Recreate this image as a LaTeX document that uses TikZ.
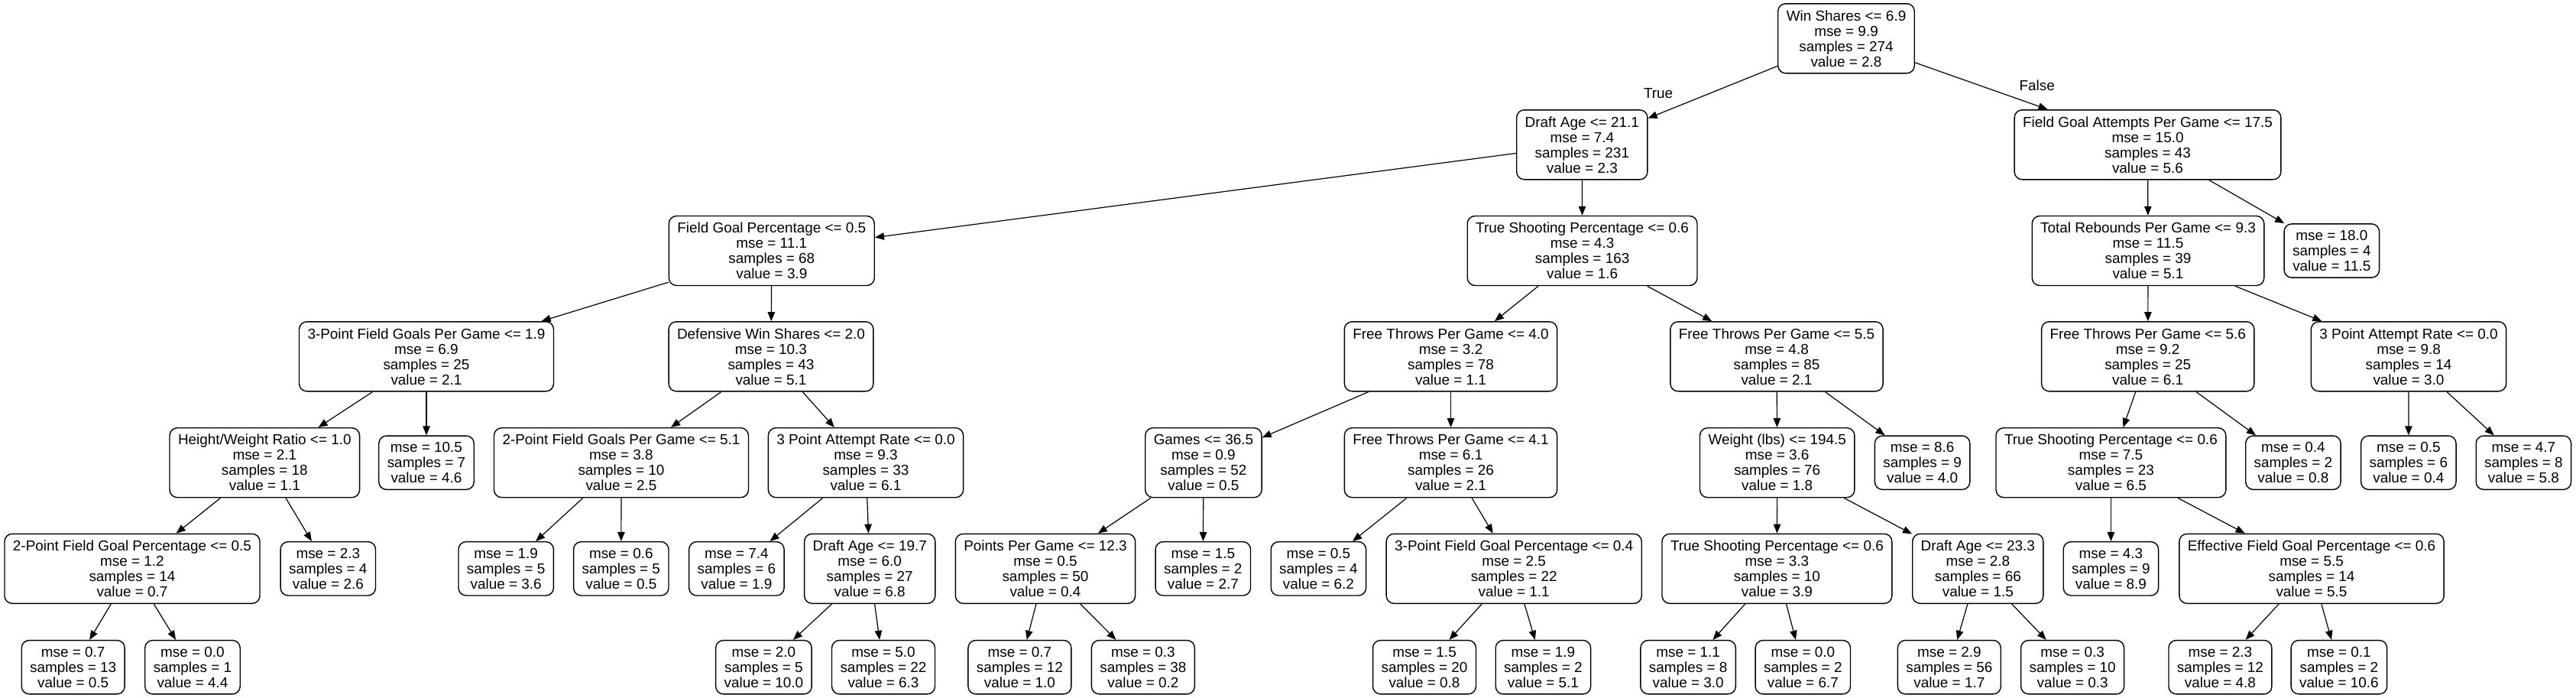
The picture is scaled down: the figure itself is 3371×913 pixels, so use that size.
\documentclass[tikz,border=0pt]{standalone}
\usepackage{fontspec}
\setmainfont{Liberation Sans}
\usepackage{tikz}
\usetikzlibrary{arrows.meta}

\begin{document}
\begin{tikzpicture}[x=1pt, y=-1pt,
		font=\fontsize{18.9}{20}\selectfont,
		splitbox/.style={draw, line width=1.4pt, rounded corners=10pt, align=center, inner xsep=11pt, inner ysep=3pt, minimum height=91pt},
		leafbox/.style={splitbox, minimum height=70.3pt},
		branch/.style={line width=1.2pt, -{Triangle[length=12pt, width=9.5pt]}},
		blabel/.style={anchor=base, inner sep=0pt}]
			% \draw[very thin, gray, dashed](0, 0)grid[step=100](3371, 913);
			\fill[white] (0, 0) rectangle (3371, 913);
			\useasboundingbox (0, 0) rectangle (3371, 913);

			% level 0 and 1
			\node[splitbox] (win_shares) at (2416, 50.3) {Win Shares <= 6.9\\mse = 9.9\\samples = 274\\value = 2.8};
			\node[splitbox] (draft_age_21) at (2070.3, 189.3) {Draft Age <= 21.1\\mse = 7.4\\samples = 231\\value = 2.3};
			\node[splitbox] (fga_17) at (2810.5, 189.3) {Field Goal Attempts Per Game <= 17.5\\mse = 15.0\\samples = 43\\value = 5.6};

			% level 2
			\node[splitbox] (fg_pct) at (1009.8, 328) {Field Goal Percentage <= 0.5\\mse = 11.1\\samples = 68\\value = 3.9};
			\node[splitbox] (ts_pct_163) at (2070.6, 328) {True Shooting Percentage <= 0.6\\mse = 4.3\\samples = 163\\value = 1.6};
			\node[splitbox] (rebounds) at (2811, 328) {Total Rebounds Per Game <= 9.3\\mse = 11.5\\samples = 39\\value = 5.1};
			\node[leafbox] (leaf_18) at (3051.3, 328) {mse = 18.0\\samples = 4\\value = 11.5};

			% level 3
			\node[splitbox] (three_pg) at (558, 466.3) {3-Point Field Goals Per Game <= 1.9\\mse = 6.9\\samples = 25\\value = 2.1};
			\node[splitbox] (def_ws) at (1009, 466.3) {Defensive Win Shares <= 2.0\\mse = 10.3\\samples = 43\\value = 5.1};
			\node[splitbox] (ft_40) at (1898.5, 466.3) {Free Throws Per Game <= 4.0\\mse = 3.2\\samples = 78\\value = 1.1};
			\node[splitbox] (ft_55) at (2325, 466.3) {Free Throws Per Game <= 5.5\\mse = 4.8\\samples = 85\\value = 2.1};
			\node[splitbox] (ft_56) at (2810.7, 466.3) {Free Throws Per Game <= 5.6\\mse = 9.2\\samples = 25\\value = 6.1};
			\node[splitbox] (tpar_14) at (3152, 466.3) {3 Point Attempt Rate <= 0.0\\mse = 9.8\\samples = 14\\value = 3.0};

			% level 4
			\node[splitbox] (hw_ratio) at (346.3, 605.2) {Height/Weight Ratio <= 1.0\\mse = 2.1\\samples = 18\\value = 1.1};
			\node[leafbox] (leaf_105) at (558, 605.2) {mse = 10.5\\samples = 7\\value = 4.6};
			\node[splitbox] (two_pg) at (813, 605.2) {2-Point Field Goals Per Game <= 5.1\\mse = 3.8\\samples = 10\\value = 2.5};
			\node[splitbox] (tpar_33) at (1133, 605.2) {3 Point Attempt Rate <= 0.0\\mse = 9.3\\samples = 33\\value = 6.1};
			\node[splitbox] (games) at (1574.9, 605.2) {Games <= 36.5\\mse = 0.9\\samples = 52\\value = 0.5};
			\node[splitbox] (ft_41) at (1898.5, 605.2) {Free Throws Per Game <= 4.1\\mse = 6.1\\samples = 26\\value = 2.1};
			\node[splitbox] (weight) at (2325.7, 605.2) {Weight (lbs) <= 194.5\\mse = 3.6\\samples = 76\\value = 1.8};
			\node[leafbox] (leaf_86) at (2515.6, 605.2) {mse = 8.6\\samples = 9\\value = 4.0};
			\node[splitbox] (ts_pct_23) at (2762.4, 605.2) {True Shooting Percentage <= 0.6\\mse = 7.5\\samples = 23\\value = 6.5};
			\node[leafbox] (leaf_04) at (3000.9, 605.2) {mse = 0.4\\samples = 2\\value = 0.8};
			\node[leafbox] (leaf_05a) at (3151.8, 605.2) {mse = 0.5\\samples = 6\\value = 0.4};
			\node[leafbox] (leaf_47) at (3302.4, 605.2) {mse = 4.7\\samples = 8\\value = 5.8};

			% level 5
			\node[splitbox] (two_pct) at (173, 743.8) {2-Point Field Goal Percentage <= 0.5\\mse = 1.2\\samples = 14\\value = 0.7};
			\node[leafbox] (leaf_23a) at (429.3, 743.8) {mse = 2.3\\samples = 4\\value = 2.6};
			\node[leafbox] (leaf_19a) at (662.2, 743.8) {mse = 1.9\\samples = 5\\value = 3.6};
			\node[leafbox] (leaf_06) at (812.8, 743.8) {mse = 0.6\\samples = 5\\value = 0.5};
			\node[leafbox] (leaf_74) at (963.9, 743.8) {mse = 7.4\\samples = 6\\value = 1.9};
			\node[splitbox] (draft_age_19) at (1138.2, 743.8) {Draft Age <= 19.7\\mse = 6.0\\samples = 27\\value = 6.8};
			\node[splitbox] (points) at (1368, 743.8) {Points Per Game <= 12.3\\mse = 0.5\\samples = 50\\value = 0.4};
			\node[leafbox] (leaf_15a) at (1574.3, 743.8) {mse = 1.5\\samples = 2\\value = 2.7};
			\node[leafbox] (leaf_05b) at (1725.4, 743.8) {mse = 0.5\\samples = 4\\value = 6.2};
			\node[splitbox] (three_pct) at (1981.2, 743.8) {3-Point Field Goal Percentage <= 0.4\\mse = 2.5\\samples = 22\\value = 1.1};
			\node[splitbox] (ts_pct_10) at (2325.4, 743.8) {True Shooting Percentage <= 0.6\\mse = 3.3\\samples = 10\\value = 3.9};
			\node[splitbox] (draft_age_23) at (2588.3, 743.8) {Draft Age <= 23.3\\mse = 2.8\\samples = 66\\value = 1.5};
			\node[leafbox] (leaf_43) at (2762.4, 743.8) {mse = 4.3\\samples = 9\\value = 8.9};
			\node[splitbox] (efg_pct) at (3025, 743.8) {Effective Field Goal Percentage <= 0.6\\mse = 5.5\\samples = 14\\value = 5.5};

			% level 6
			\node[leafbox] (leaf_07a) at (95.7, 872.7) {mse = 0.7\\samples = 13\\value = 0.5};
			\node[leafbox] (leaf_00a) at (252, 872.7) {mse = 0.0\\samples = 1\\value = 4.4};
			\node[leafbox] (leaf_20) at (999.4, 872.7) {mse = 2.0\\samples = 5\\value = 10.0};
			\node[leafbox] (leaf_50) at (1156, 872.7) {mse = 5.0\\samples = 22\\value = 6.3};
			\node[leafbox] (leaf_07b) at (1334.4, 872.7) {mse = 0.7\\samples = 12\\value = 1.0};
			\node[leafbox] (leaf_03a) at (1495.9, 872.7) {mse = 0.3\\samples = 38\\value = 0.2};
			\node[leafbox] (leaf_15b) at (1864, 872.7) {mse = 1.5\\samples = 20\\value = 0.8};
			\node[leafbox] (leaf_19b) at (2019.4, 872.7) {mse = 1.9\\samples = 2\\value = 5.1};
			\node[leafbox] (leaf_11) at (2209.1, 872.7) {mse = 1.1\\samples = 8\\value = 3.0};
			\node[leafbox] (leaf_00b) at (2359.3, 872.7) {mse = 0.0\\samples = 2\\value = 6.7};
			\node[leafbox] (leaf_29) at (2550.8, 872.7) {mse = 2.9\\samples = 56\\value = 1.7};
			\node[leafbox] (leaf_03b) at (2712.1, 872.7) {mse = 0.3\\samples = 10\\value = 0.3};
			\node[leafbox] (leaf_23b) at (2905.4, 872.7) {mse = 2.3\\samples = 12\\value = 4.8};
			\node[leafbox] (leaf_01) at (3060.9, 872.7) {mse = 0.1\\samples = 2\\value = 10.6};

			% branches
			\draw[branch] (win_shares) -- node[blabel, pos=0.92, yshift=21pt] {True} (draft_age_21);
			\draw[branch] (win_shares) -- node[blabel, pos=0.92, yshift=19.7pt] {False} (fga_17);
			\draw[branch] (draft_age_21) -- (fg_pct);
			\draw[branch] (draft_age_21) -- (ts_pct_163);
			\draw[branch] (fga_17) -- (rebounds);
			\draw[branch] (fga_17) -- (leaf_18);
			\draw[branch] (fg_pct) -- (three_pg);
			\draw[branch] (fg_pct) -- (def_ws);
			\draw[branch] (ts_pct_163) -- (ft_40);
			\draw[branch] (ts_pct_163) -- (ft_55);
			\draw[branch] (rebounds) -- (ft_56);
			\draw[branch] (rebounds) -- (tpar_14);
			\draw[branch] (three_pg) -- (hw_ratio);
			\draw[branch] (three_pg) -- (leaf_105);
			\draw[branch] (def_ws) -- (two_pg);
			\draw[branch] (def_ws) -- (tpar_33);
			\draw[branch] (ft_40) -- (games);
			\draw[branch] (ft_40) -- (ft_41);
			\draw[branch] (ft_55) -- (weight);
			\draw[branch] (ft_55) -- (leaf_86);
			\draw[branch] (ft_56) -- (ts_pct_23);
			\draw[branch] (ft_56) -- (leaf_04);
			\draw[branch] (tpar_14) -- (leaf_05a);
			\draw[branch] (tpar_14) -- (leaf_47);
			\draw[branch] (hw_ratio) -- (two_pct);
			\draw[branch] (hw_ratio) -- (leaf_23a);
			\draw[branch] (two_pg) -- (leaf_19a);
			\draw[branch] (two_pg) -- (leaf_06);
			\draw[branch] (tpar_33) -- (leaf_74);
			\draw[branch] (tpar_33) -- (draft_age_19);
			\draw[branch] (games) -- (points);
			\draw[branch] (games) -- (leaf_15a);
			\draw[branch] (ft_41) -- (leaf_05b);
			\draw[branch] (ft_41) -- (three_pct);
			\draw[branch] (weight) -- (ts_pct_10);
			\draw[branch] (weight) -- (draft_age_23);
			\draw[branch] (ts_pct_23) -- (leaf_43);
			\draw[branch] (ts_pct_23) -- (efg_pct);
			\draw[branch] (two_pct) -- (leaf_07a);
			\draw[branch] (two_pct) -- (leaf_00a);
			\draw[branch] (draft_age_19) -- (leaf_20);
			\draw[branch] (draft_age_19) -- (leaf_50);
			\draw[branch] (points) -- (leaf_07b);
			\draw[branch] (points) -- (leaf_03a);
			\draw[branch] (three_pct) -- (leaf_15b);
			\draw[branch] (three_pct) -- (leaf_19b);
			\draw[branch] (ts_pct_10) -- (leaf_11);
			\draw[branch] (ts_pct_10) -- (leaf_00b);
			\draw[branch] (draft_age_23) -- (leaf_29);
			\draw[branch] (draft_age_23) -- (leaf_03b);
			\draw[branch] (efg_pct) -- (leaf_23b);
			\draw[branch] (efg_pct) -- (leaf_01);
		\end{tikzpicture}
\end{document}
